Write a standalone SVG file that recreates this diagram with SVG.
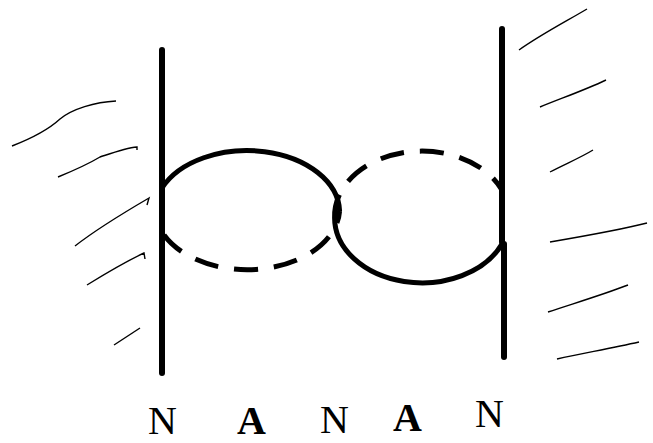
<svg xmlns="http://www.w3.org/2000/svg" width="653" height="443" viewBox="0 0 653 443">
<style>
.wall{stroke:#000;stroke-width:6;stroke-linecap:round;fill:none}
.solid{stroke:#000;stroke-width:5;fill:none}
.dash{stroke:#000;stroke-width:5;fill:none;stroke-dasharray:24 16}
.hatch{stroke:#000;stroke-width:1.4;fill:none}
.lbl{font-family:"Liberation Serif","Times New Roman",serif;font-size:40px;fill:#000}
.b{font-weight:bold}
</style>
<rect width="653" height="443" fill="#fff"/>
<g id="hatch-left">
<path class="hatch" d="M12,146 C30,139 48,130 60,119 C72,109 95,102 116,101"/>
<path class="hatch" d="M58,177 C75,170 90,163 100,157 C115,152 126,148 137,147 L137,150"/>
<path class="hatch" d="M75,246 C98,228 125,212 149,198 L147,205"/>
<path class="hatch" d="M87,285 C108,272 125,262 144,253 L145,259"/>
<path class="hatch" d="M114,345 L140,328"/>
</g>
<g id="hatch-right">
<path class="hatch" d="M519,50 C540,35 565,22 587,9"/>
<path class="hatch" d="M540,107 C562,98 585,90 606,80"/>
<path class="hatch" d="M550,172 C565,164 580,158 593,150"/>
<path class="hatch" d="M550,242 C585,236 620,230 647,223"/>
<path class="hatch" d="M548,312 C575,303 602,295 628,285"/>
<path class="hatch" d="M557,359 C585,353 612,348 639,342"/>
</g>
<g id="wall-left">
<line class="wall" x1="162" y1="50" x2="162" y2="373"/>
</g>
<g id="wall-right">
<line class="wall" x1="502" y1="29" x2="502" y2="242"/>
<line class="wall" x1="504" y1="244" x2="504" y2="357"/>
</g>
<g id="connectors">
<path class="solid" d="M162,188 A92.6,62 0 0 1 339.6,211"/>
<path class="dash" d="M164,235 A92.6,62 0 0 0 339.6,211"/>
<path class="dash" d="M334.6,218 A87.4,65 0 0 1 502,190"/>
<path class="solid" d="M334.6,218 A87.4,65 0 0 0 502,244"/>
</g>
<g id="labels">
<text class="lbl" x="148" y="434">N</text>
<text class="lbl b" x="237" y="434">A</text>
<text class="lbl" x="320" y="433">N</text>
<text class="lbl b" x="393" y="431">A</text>
<text class="lbl" x="475" y="427">N</text>
</g>
</svg>
